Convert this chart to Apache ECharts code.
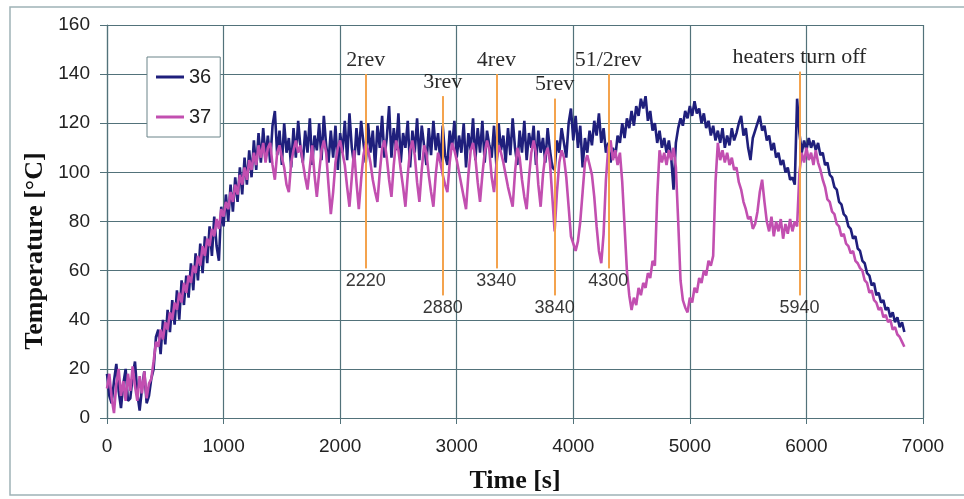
<!DOCTYPE html>
<html>
<head>
<meta charset="utf-8">
<script src="https://cdn.jsdelivr.net/npm/echarts@6/dist/echarts.min.js"></script>
<style>
  html, body { margin: 0; padding: 0; background: #fff; }
  #chart { width: 964px; height: 499px; }
</style>
</head>
<body>
<div id="chart"></div>
<script>
// sample times [s], one row = 400 s
var times = [
  0, 20, 40, 60, 80, 100, 120, 140, 160, 180, 200, 220, 240, 260, 280, 300, 320, 340, 360, 380,
  400, 420, 440, 460, 480, 500, 520, 540, 560, 580, 600, 620, 640, 660, 680, 700, 720, 740, 760, 780,
  800, 820, 840, 860, 880, 900, 920, 940, 960, 980, 1000, 1020, 1040, 1060, 1080, 1100, 1120, 1140, 1160, 1180,
  1200, 1220, 1240, 1260, 1280, 1300, 1320, 1340, 1360, 1380, 1400, 1420, 1440, 1460, 1480, 1500, 1520, 1540, 1560, 1580,
  1600, 1620, 1640, 1660, 1680, 1700, 1720, 1740, 1760, 1780, 1800, 1820, 1840, 1860, 1880, 1900, 1920, 1940, 1960, 1980,
  2000, 2020, 2040, 2060, 2080, 2100, 2120, 2140, 2160, 2180, 2200, 2220, 2240, 2260, 2280, 2300, 2320, 2340, 2360, 2380,
  2400, 2420, 2440, 2460, 2480, 2500, 2520, 2540, 2560, 2580, 2600, 2620, 2640, 2660, 2680, 2700, 2720, 2740, 2760, 2780,
  2800, 2820, 2840, 2860, 2880, 2900, 2920, 2940, 2960, 2980, 3000, 3020, 3040, 3060, 3080, 3100, 3120, 3140, 3160, 3180,
  3200, 3220, 3240, 3260, 3280, 3300, 3320, 3340, 3360, 3380, 3400, 3420, 3440, 3460, 3480, 3500, 3520, 3540, 3560, 3580,
  3600, 3620, 3640, 3660, 3680, 3700, 3720, 3740, 3760, 3780, 3800, 3820, 3840, 3860, 3880, 3900, 3920, 3940, 3960, 3980,
  4000, 4020, 4040, 4060, 4080, 4100, 4120, 4140, 4160, 4180, 4200, 4220, 4240, 4260, 4280, 4300, 4320, 4340, 4360, 4380,
  4400, 4420, 4440, 4460, 4480, 4500, 4520, 4540, 4560, 4580, 4600, 4620, 4640, 4660, 4680, 4700, 4720, 4740, 4760, 4780,
  4800, 4820, 4840, 4860, 4880, 4900, 4920, 4940, 4960, 4980, 5000, 5020, 5040, 5060, 5080, 5100, 5120, 5140, 5160, 5180,
  5200, 5220, 5240, 5260, 5280, 5300, 5320, 5340, 5360, 5380, 5400, 5420, 5440, 5460, 5480, 5500, 5520, 5540, 5560, 5580,
  5600, 5620, 5640, 5660, 5680, 5700, 5720, 5740, 5760, 5780, 5800, 5820, 5840, 5860, 5880, 5900, 5920, 5940, 5960, 5980,
  6000, 6020, 6040, 6060, 6080, 6100, 6120, 6140, 6160, 6180, 6200, 6220, 6240, 6260, 6280, 6300, 6320, 6340, 6360, 6380,
  6400, 6420, 6440, 6460, 6480, 6500, 6520, 6540, 6560, 6580, 6600, 6620, 6640, 6660, 6680, 6700, 6720, 6740, 6760, 6780,
  6800, 6820, 6840
];

// thermocouple 36
var t36 = [
  18, 9, 6, 15, 22, 11, 4, 14, 20, 7, 8, 17, 23, 10, 3, 12, 19, 6, 9, 16,
  20, 33, 36, 26, 40, 30, 44, 35, 48, 38, 52, 40, 56, 46, 58, 49, 63, 52, 67, 56,
  71, 59, 74, 63, 78, 66, 82, 70, 64, 86, 78, 91, 80, 95, 84, 98, 88, 102, 91, 106,
  95, 109, 98, 113, 101, 116, 104, 118, 106, 115, 104, 119, 125, 107, 117, 103, 120, 108, 114, 102,
  118, 106, 121, 110, 104, 117, 108, 122, 103, 115, 109, 120, 105, 123, 111, 104, 117, 106, 119, 101,
  116, 108, 121, 105, 124, 110, 103, 118, 107, 121, 112, 104, 120, 108, 117, 102, 119, 110, 123, 106,
  114, 127, 106, 118, 109, 124, 104, 116, 110, 121, 102, 117, 108, 122, 105, 119, 111, 103, 118, 107,
  121, 109, 116, 104, 119, 107, 103, 117, 110, 121, 106, 115, 108, 120, 102, 116, 109, 122, 105, 118,
  108, 121, 104, 117, 111, 106, 119, 103, 120, 109, 115, 104, 118, 107, 122, 110, 103, 117, 108, 121,
  105, 116, 110, 119, 103, 117, 108, 114, 104, 118, 109, 102, 101, 113, 108, 118, 112, 106, 120, 126,
  113, 123, 110, 119, 102, 114, 108, 117, 111, 121, 115, 124, 112, 118, 108, 112, 104, 110, 106, 115,
  112, 120, 114, 122, 118, 125, 119, 127, 123, 130, 126, 131, 121, 125, 117, 120, 112, 117, 110, 114,
  108, 113, 106, 93, 112, 118, 122, 119, 125, 122, 127, 123, 129, 124, 126, 120, 124, 118, 121, 115,
  119, 113, 117, 112, 118, 110, 115, 111, 118, 113, 116, 120, 123, 115, 118, 110, 105, 114, 117, 120,
  123, 117, 119, 113, 115, 109, 112, 106, 108, 103, 105, 100, 102, 97, 98, 95, 130, 116, 108, 113,
  109, 114, 110, 113, 109, 112, 107, 108, 103, 104, 99, 98, 94, 93, 88, 87, 83, 82, 78, 77,
  73, 74, 69, 68, 64, 63, 59, 58, 54, 55, 50, 51, 47, 48, 44, 45, 41, 43, 39, 41,
  37, 39, 35
];

// thermocouple 37
var t37 = [
  12, 18, 8, 2, 14, 20, 9, 15, 7, 18, 11, 21, 13, 7, 17, 10, 19, 8, 14, 16,
  23, 31, 29, 36, 32, 39, 36, 43, 40, 47, 44, 51, 47, 55, 51, 58, 55, 62, 59, 66,
  62, 70, 66, 73, 70, 77, 74, 81, 77, 85, 82, 88, 85, 92, 88, 95, 91, 99, 95, 102,
  97, 105, 101, 108, 103, 111, 106, 112, 104, 110, 112, 103, 97, 108, 111, 106, 102, 95, 92, 104,
  109, 113, 108, 111, 104, 98, 93, 102, 111, 99, 90, 100, 109, 113, 108, 95, 83, 92, 104, 110,
  113, 108, 103, 94, 86, 98, 109, 96, 85, 97, 107, 112, 109, 104, 97, 92, 88, 100, 110, 113,
  106, 97, 90, 103, 113, 109, 101, 94, 86, 99, 109, 113, 107, 96, 88, 101, 111, 108, 99, 92,
  86, 99, 108, 104, 99, 95, 92, 104, 112, 109, 105, 100, 95, 90, 85, 99, 109, 112, 106, 96,
  88, 99, 108, 113, 109, 98, 92, 103, 111, 108, 104, 99, 94, 90, 86, 100, 110, 106, 97, 90,
  85, 98, 108, 113, 108, 95, 86, 99, 107, 110, 104, 90, 76, 92, 104, 109, 106, 98, 86, 74,
  71, 68, 72, 80, 92, 104, 107, 103, 99, 90, 78, 68, 63, 75, 97, 110, 113, 105, 109, 103,
  108, 96, 78, 60, 50, 44, 49, 46, 53, 50, 55, 53, 59, 57, 64, 62, 90, 109, 104, 108,
  103, 109, 105, 110, 102, 80, 56, 48, 45, 43, 49, 47, 53, 51, 57, 55, 60, 58, 64, 62,
  66, 96, 112, 105, 109, 104, 108, 103, 106, 101, 102, 96, 93, 88, 85, 81, 82, 77, 79, 84,
  92, 97, 88, 80, 76, 82, 74, 80, 76, 81, 73, 79, 75, 81, 76, 80, 78, 100, 108, 104,
  110, 105, 108, 103, 109, 104, 101, 97, 94, 89, 88, 84, 83, 79, 78, 74, 75, 71, 70, 67,
  68, 64, 63, 61, 60, 56, 55, 51, 52, 48, 47, 44, 45, 41, 42, 39, 40, 36, 37, 34,
  33, 31, 29
];

// orange markers
var markTimes = [2220, 2880, 3340, 3840, 4300, 5940];
var markNames = ['2rev', '3rev', '4rev', '5rev', '51/2rev', 'heaters turn off'];
var markTop = [140, 131, 140, 130, 140, 141];
var markBottom = [61, 50, 61, 50, 61, 50];

function pairs(vals) {
  var out = [];
  for (var i = 0; i < times.length; i++) out.push([times[i], vals[i]]);
  return out;
}

var serif = "'Liberation Serif', 'Times New Roman', serif";
var sans = "'Liberation Sans', Arial, sans-serif";
var gridColor = '#52727a';
var orange = '#f4a24c';

var markData = [];
for (var i = 0; i < markTimes.length; i++) {
  // same segment twice: name on top, time below
  markData.push([
    { coord: [markTimes[i], markBottom[i]],
      label: { position: 'end', formatter: markNames[i], fontFamily: serif, fontSize: 22, color: '#111', distance: 3 } },
    { coord: [markTimes[i], markTop[i]] }
  ]);
  markData.push([
    { coord: [markTimes[i], markBottom[i]],
      label: { position: 'start', formatter: String(markTimes[i]), fontFamily: sans, fontSize: 18, color: '#222', distance: 4 } },
    { coord: [markTimes[i], markTop[i]] }
  ]);
}

var chart = echarts.init(document.getElementById('chart'));
chart.setOption({
  backgroundColor: '#fff',
  animation: false,
  grid: { left: 107, right: 41, top: 25, bottom: 79 },
  legend: {
    data: ['36', '37'],
    orient: 'vertical',
    left: 147,
    top: 57,
    icon: 'rect',
    itemWidth: 28,
    itemHeight: 3,
    itemGap: 20,
    padding: [10, 9, 10, 9],
    borderColor: '#6b8489',
    borderWidth: 1,
    backgroundColor: '#fff',
    textStyle: { fontFamily: sans, fontSize: 20, color: '#222' }
  },
  graphic: [
    { type: 'rect', shape: { x: 10, y: 7, width: 960, height: 488 },
      style: { fill: 'none', stroke: '#9fb2b6', lineWidth: 1.5 }, z: -1 },
    { type: 'text', x: 35, y: 251, rotation: Math.PI / 2,
      style: { text: 'Temperature [°C]', font: 'bold 26px ' + serif, fill: '#111',
               textAlign: 'center', textVerticalAlign: 'middle' } }
  ],
  xAxis: {
    type: 'value',
    min: 0,
    max: 7000,
    interval: 1000,
    name: 'Time [s]',
    nameLocation: 'middle',
    nameGap: 50,
    nameTextStyle: { fontFamily: serif, fontSize: 26, fontWeight: 'bold', color: '#111' },
    axisLine: { onZero: false, lineStyle: { color: gridColor, width: 1.2 } },
    axisTick: { show: true, length: 6, lineStyle: { color: gridColor } },
    axisLabel: { fontFamily: sans, fontSize: 19, color: '#222', margin: 19,
                 formatter: function (v) { return String(v); } },
    splitLine: { show: true, lineStyle: { color: gridColor, width: 1.2 } }
  },
  yAxis: {
    type: 'value',
    min: 0,
    max: 160,
    interval: 20,
    axisLine: { show: true, lineStyle: { color: gridColor, width: 1.2 } },
    axisTick: { show: true, length: 7, lineStyle: { color: gridColor } },
    axisLabel: { fontFamily: sans, fontSize: 19, color: '#222', margin: 17 },
    splitLine: { show: true, lineStyle: { color: gridColor, width: 1.2 } }
  },
  series: [
    {
      name: '36',
      type: 'line',
      data: pairs(t36),
      showSymbol: false,
      color: '#1f1f7c',
      lineStyle: { width: 2.6, color: '#1f1f7c' }
    },
    {
      name: '37',
      type: 'line',
      data: pairs(t37),
      showSymbol: false,
      color: '#c24fb0',
      lineStyle: { width: 2.6, color: '#c24fb0' }
    },
    {
      name: 'marks',
      type: 'line',
      data: [],
      markLine: {
        silent: true,
        symbol: ['none', 'none'],
        lineStyle: { color: orange, width: 2, type: 'solid', opacity: 0.9 },
        data: markData
      }
    }
  ]
});
</script>
</body>
</html>
